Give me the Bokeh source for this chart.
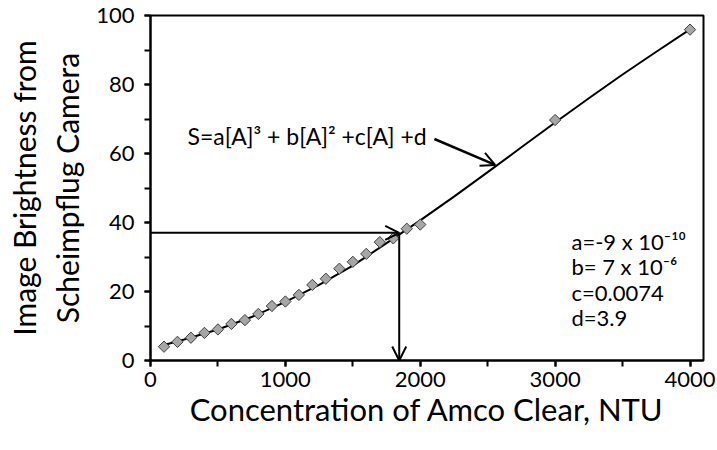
import numpy as np
from bokeh.plotting import figure
from bokeh.models import (Range1d, SingleIntervalTicker, Arrow, OpenHead, Label)
from bokeh.embed import file_html
from bokeh.resources import INLINE

# measured data points
conc = [100, 200, 300, 400, 500, 600, 700, 800, 900, 1000, 1100, 1200, 1300,
        1400, 1500, 1600, 1700, 1800, 1900, 2000, 3000, 4000]
bright = [4.0, 5.4, 6.6, 8.0, 9.0, 10.6, 11.7, 13.5, 15.8, 17.1, 19.0, 21.9,
          23.7, 26.6, 28.6, 30.9, 34.3, 35.4, 38.2, 39.4, 69.7, 95.9]

# trend line
fit_x = [100, 250, 500, 750, 1000, 1250, 1500, 1750, 2000, 2250, 2500, 2750,
         3000, 3250, 3500, 3750, 4000]
fit_y = [4.5, 6.1, 9.0, 12.6, 17.0, 21.9, 27.5, 34.0, 40.6, 47.5, 54.6, 61.8,
         69.0, 76.0, 82.9, 89.5, 96.0]

# read-off arrows (sample brightness -> concentration)
read_conc = [1844]
read_bright = [37]

# equation pointer arrow
eq_arrow_x = [2105, 2555]
eq_arrow_y = [64.2, 56.7]

eq_text = "S=a[A]\u00b3 + b[A]\u00b2 +c[A] +d"
eq_pos = [274, 65.2]
coef_text = ["a=-9 x 10\u207b\u00b9\u2070", "b= 7 x 10\u207b\u2076", "c=0.0074", "d=3.9"]
coef_x = 3121
coef_y = [34.5, 27.3, 19.8, 12.4]

x_ticks_step = 1000
y_ticks_step = 20

FONT = "Lato"

p = figure(width=717, height=450, output_backend="svg", toolbar_location=None,
           x_range=Range1d(0, 4100), y_range=Range1d(0, 100),
           min_border_left=150, min_border_right=14, min_border_top=15,
           min_border_bottom=90)
p.grid.visible = False
p.outline_line_color = "black"
p.outline_line_width = 2
p.background_fill_color = "white"
p.border_fill_color = "white"

p.xaxis.ticker = SingleIntervalTicker(interval=x_ticks_step, num_minor_ticks=2)
p.yaxis.ticker = SingleIntervalTicker(interval=y_ticks_step, num_minor_ticks=2)
for ax in (p.xaxis[0], p.yaxis[0]):
    ax.axis_line_color = "black"
    ax.axis_line_width = 2
    ax.major_tick_line_color = "black"
    ax.minor_tick_line_color = "black"
    ax.major_tick_line_width = 2
    ax.minor_tick_line_width = 2
    ax.major_tick_in = 0
    ax.major_tick_out = 6
    ax.minor_tick_in = 0
    ax.minor_tick_out = 6
    ax.major_label_text_font = FONT
    ax.major_label_text_font_size = "22px"
    ax.major_label_text_color = "black"
    ax.axis_label_text_font = FONT
    ax.axis_label_text_font_style = "normal"
    ax.axis_label_text_color = "black"

p.xaxis.axis_label_text_font_size = "31px"
p.yaxis.axis_label_text_font_size = "30px"
p.xaxis.axis_label = "Concentration of Amco Clear, NTU"
p.yaxis.axis_label = "Image Brightness from\nScheimpflug Camera"
p.xaxis.major_label_standoff = 5
p.yaxis.major_label_standoff = 10
p.xaxis.axis_label_standoff = 0
p.yaxis.axis_label_standoff = 8

p.line(fit_x, fit_y, line_color="black", line_width=2)
p.scatter(conc, bright, marker="square", size=8, angle=np.pi / 4,
          fill_color="#A6A6A6", line_color="#404040", line_width=1)

head = dict(size=14, line_width=2, line_color="black")
p.add_layout(Arrow(end=OpenHead(**head), x_start=0, y_start=read_bright[0],
                   x_end=read_conc[0], y_end=read_bright[0],
                   line_width=2, line_color="black"))
p.add_layout(Arrow(end=OpenHead(**head), x_start=read_conc[0], y_start=read_bright[0],
                   x_end=read_conc[0], y_end=0,
                   line_width=2, line_color="black"))
p.add_layout(Arrow(end=OpenHead(**head), x_start=eq_arrow_x[0], y_start=eq_arrow_y[0],
                   x_end=eq_arrow_x[1], y_end=eq_arrow_y[1],
                   line_width=2.5, line_color="black"))

p.add_layout(Label(x=eq_pos[0], y=eq_pos[1], text=eq_text, text_font=FONT,
                   text_font_size="23px", text_baseline="middle", text_color="black"))
for t, yy in zip(coef_text, coef_y):
    p.add_layout(Label(x=coef_x, y=yy, text=t, text_font=FONT,
                       text_font_size="22px", text_baseline="middle", text_color="black"))

open("out.html", "w").write(file_html(p, INLINE))
